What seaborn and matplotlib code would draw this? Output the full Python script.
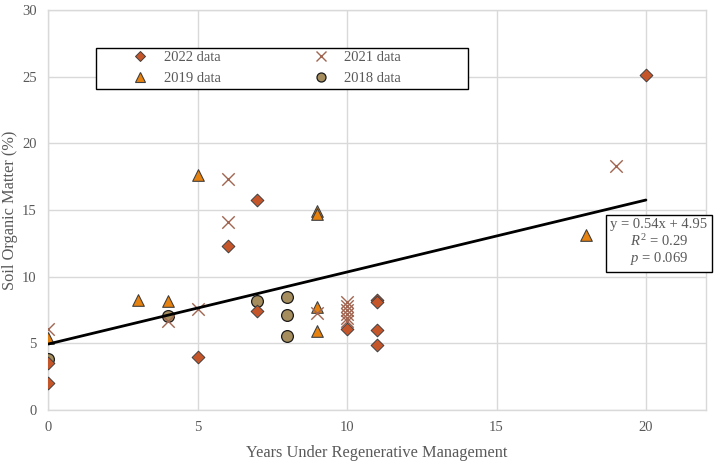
import matplotlib
matplotlib.use("Agg")
import matplotlib.pyplot as plt
import seaborn as sns
import numpy as np
import pandas as pd
from matplotlib.ticker import MultipleLocator
from matplotlib.lines import Line2D
from matplotlib.patches import Rectangle

# ---- data ----
x2022 = [0, 0, 5, 6, 7, 7, 10, 11, 11, 11, 11, 20]
y2022 = [2.0, 3.5, 4.0, 12.3, 15.75, 7.4, 6.05, 8.25, 8.1, 6.0, 4.9, 25.1]
x2021 = [0, 4, 5, 6, 6, 9, 10, 10, 10, 10, 10, 10, 19]
y2021 = [6.1, 6.7, 7.6, 17.3, 14.1, 7.25, 8.1, 7.8, 7.5, 7.2, 6.9, 6.7, 18.3]
x2019 = [0, 3, 4, 5, 9, 9, 9, 9, 18]
y2019 = [5.4, 8.25, 8.2, 17.6, 14.9, 14.7, 7.7, 5.9, 13.1]
x2018 = [0, 4, 7, 8, 8, 8]
y2018 = [3.8, 7.05, 8.15, 8.45, 7.15, 5.55]
slope = 0.54
intercept = 4.95
r2_text = "0.29"
p_text = "0.069"
xticks = [0, 5, 10, 15, 20]
yticks = [0, 5, 10, 15, 20, 25, 30]

sns.set_theme(style="white")
plt.rcParams['font.family'] = ['Liberation Serif', 'DejaVu Serif']
plt.rcParams['mathtext.fontset'] = 'custom'
plt.rcParams['mathtext.rm'] = 'Liberation Serif'
plt.rcParams['mathtext.it'] = 'Liberation Serif:italic'

fig = plt.figure(figsize=(7.17, 4.61), dpi=100)
ax = fig.add_axes([0.0674, 0.1106, 0.9168, 0.8677])

grey = "#d9d9d9"
txt = "#595959"

c22 = "#C5562A"
c19 = "#E8820E"
c18 = "#A68D5E"
c21 = "#A06450"

sns.scatterplot(x=x2019, y=y2019, ax=ax, marker="^", s=70, color=c19,
                edgecolor="#404040", linewidth=0.8, zorder=3)
sns.scatterplot(x=x2018, y=y2018, ax=ax, marker="o", s=72, color=c18,
                edgecolor="#1a1a1a", linewidth=0.9, zorder=3)
sns.scatterplot(x=x2021, y=y2021, ax=ax, marker="x", s=80, color=c21,
                linewidth=1.0, zorder=3)
sns.scatterplot(x=x2022, y=y2022, ax=ax, marker="D", s=42, color=c22,
                edgecolor="#404040", linewidth=0.7, zorder=4)

allx = np.array(x2022 + x2021 + x2019 + x2018, dtype=float)
lx = np.array([allx.min(), allx.max()])
ax.plot(lx, slope * lx + intercept, color="black", lw=2.0, zorder=5)

ax.set_xlim(0, 22)
ax.set_ylim(0, 30)
ax.set_xticks(xticks)
ax.set_yticks(yticks)
ax.xaxis.set_minor_locator(MultipleLocator(1))
ax.yaxis.set_minor_locator(MultipleLocator(1))
ax.grid(True, which="major", color=grey, lw=1.0, zorder=0)
ax.set_axisbelow(True)
for s in ax.spines.values():
    s.set_color(grey)
    s.set_linewidth(1.0)
ax.tick_params(axis="both", which="both", direction="out", color="#bfbfbf",
               labelcolor=txt, labelsize=10.5)
ax.tick_params(which="major", length=5)
ax.tick_params(which="minor", length=4)
ax.tick_params(axis="x", pad=3)

ax.set_xlabel("Years Under Regenerative Management", color=txt, fontsize=11.8, labelpad=8)
ax.set_ylabel("Soil Organic Matter (%)", color=txt, fontsize=11.8, labelpad=3)

handles = [
    Line2D([], [], ls="", marker="D", ms=5, mfc=c22, mec="#404040", mew=0.7),
    Line2D([], [], ls="", marker="^", ms=6.5, mfc=c19, mec="#404040", mew=0.8),
    Line2D([], [], ls="", marker="x", ms=7, color=c21, mew=1.0),
    Line2D([], [], ls="", marker="o", ms=6.5, mfc=c18, mec="#1a1a1a", mew=0.9),
]
labels = ["2022 data", "2019 data", "2021 data", "2018 data"]
leg = ax.legend(handles, labels, ncol=2, loc="upper left",
                bbox_to_anchor=(0.1288, 0.8975),
                frameon=False, fontsize=10.5, labelspacing=0.5, borderpad=0,
                handletextpad=1.1, borderaxespad=0, handlelength=1.0,
                columnspacing=6.4)
for t in leg.get_texts():
    t.set_color(txt)
ax.add_patch(Rectangle((0.0726, 0.8025), 0.5659, 0.1025, transform=ax.transAxes,
                       fill=True, fc="white", ec="black", lw=1.0, zorder=4.5))
leg.set_zorder(6)

ann = ("y = %.2fx + %.2f\n$R^2$ = %s\n$p$ = %s" % (slope, intercept, r2_text, p_text))
ax.text(20.44, 12.56, ann, ha="center", va="center", color=txt, fontsize=10.5,
        multialignment="center", linespacing=1.15, zorder=6, clip_on=False,
        bbox=dict(boxstyle="square,pad=0.3", fc="white", ec="black", lw=1.0))

fig.savefig("out.png", dpi=100)
